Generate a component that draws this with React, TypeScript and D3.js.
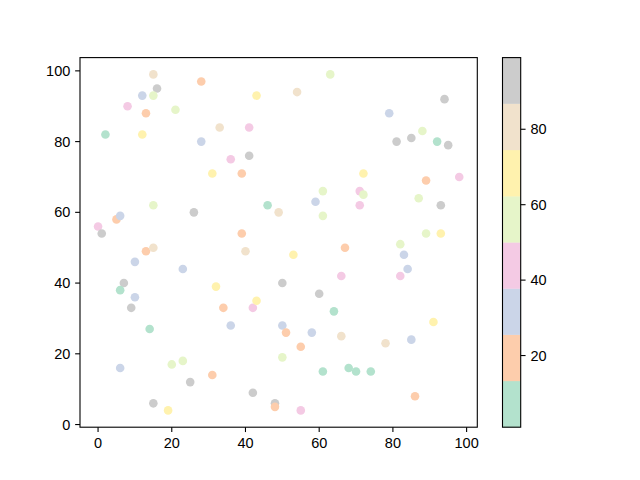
import React from "react";
import * as d3 from "d3";

const xs = [15,28,16,12,15,43,8,13,21,2,12,33,41,28,36,41,31,39,15,26,46,49,0,5,6,1,39,63,54,94,79,88,81,85,92,95,72,89,98,61,71,72,87,59,71,93,61,89,93,13,15,40,53,10,23,7,6,10,9,32,34,42,43,50,14,36,50,51,50,6,20,23,31,25,42,15,19,48,48,67,82,83,84,82,66,60,64,91,58,66,78,85,55,61,68,70,74,86,55];
const ys = [99,97,95,93,93,93,90,88,89,82,82,84,84,80,75,76,71,71,62,60,62,60,56,58,59,54,54,99,94,92,88,83,80,81,80,79,71,69,70,66,66,65,64,63,62,62,59,54,54,49,50,49,48,46,44,40,38,36,33,39,33,33,35,40,27,28,28,26,19,16,17,18,14,12,9,6,4,6,5,50,51,48,44,42,42,37,32,29,26,25,23,24,22,15,16,15,15,8,4];
const cs = [80,20,92,30,57,70,44,18,55,1,67,79,45,33,42,95,66,21,53,90,9,82,41,17,29,97,23,58,77,94,32,56,88,91,6,99,72,19,47,54,40,59,61,34,46,93,52,57,69,22,81,78,65,31,28,89,5,35,96,63,16,43,71,90,8,27,36,24,51,30,58,55,14,87,93,98,64,89,20,18,60,33,29,39,48,92,4,73,26,76,83,32,15,3,11,7,12,21,43];
const xTicks = [0, 20, 40, 60, 80, 100];
const yTicks = [0, 20, 40, 60, 80, 100];
const cTicks = [20, 40, 60, 80];
const palette = ["#b3e2cd", "#fdcdac", "#cbd5e8", "#f4cae4", "#e6f5c9", "#fff2ae", "#f1e2cc", "#cccccc"];

const W = 640, H = 480;
const L = 80, R = 477.3, T = 57.6, B = 427.2;
const CBX = 502.5, CBW = 18.2;
const FONT = "Liberation Sans, Arial, sans-serif";
const FS = 14.5;

export default function App() {
  const xMin = d3.min(xs)!, xMax = d3.max(xs)!;
  const yMin = d3.min(ys)!, yMax = d3.max(ys)!;
  const xm = (xMax - xMin) * 0.05, ym = (yMax - yMin) * 0.05;
  const x = d3.scaleLinear().domain([xMin - xm, xMax + xm]).range([L, R]);
  const y = d3.scaleLinear().domain([yMin - ym, yMax + ym]).range([B, T]);
  const cExt = d3.extent(cs) as [number, number];
  const color = d3.scaleQuantize<string>().domain(cExt).range(palette);
  const cy = d3.scaleLinear().domain(cExt).range([B, T]);
  const binW = (cExt[1] - cExt[0]) / palette.length;
  const tl = 4.86;

  return (
    <svg width={W} height={H} style={{ position: "absolute", left: 0, top: 0, background: "#fff" }}
      fontFamily={FONT} fontSize={FS}>
      <rect x={0} y={0} width={W} height={H} fill="#fff" />
      {xs.map((xv, i) => (
        <circle key={i} cx={x(xv)} cy={y(ys[i])} r={4.3} fill={color(cs[i])} />
      ))}
      <rect x={L} y={T} width={R - L} height={B - T} fill="none" stroke="#000" strokeWidth={1.1} />
      {xTicks.map((t) => (
        <g key={"x" + t} transform={`translate(${x(t)},${B})`}>
          <line y2={tl} stroke="#000" strokeWidth={1.1} />
          <text y={tl + 4.86} dy="0.76em" textAnchor="middle">{t}</text>
        </g>
      ))}
      {yTicks.map((t) => (
        <g key={"y" + t} transform={`translate(${L},${y(t)})`}>
          <line x2={-tl} stroke="#000" strokeWidth={1.1} />
          <text x={-tl - 4.86} dy="0.35em" textAnchor="end">{t}</text>
        </g>
      ))}
      {palette.map((p, i) => {
        const v0 = cExt[0] + i * binW, v1 = v0 + binW;
        return <rect key={"c" + i} x={CBX} y={cy(v1)} width={CBW} height={cy(v0) - cy(v1)} fill={p} stroke={p} strokeWidth={0.3} />;
      })}
      <rect x={CBX} y={T} width={CBW} height={B - T} fill="none" stroke="#000" strokeWidth={1.1} />
      {cTicks.map((t) => (
        <g key={"c" + t} transform={`translate(${CBX + CBW},${cy(t)})`}>
          <line x2={tl} stroke="#000" strokeWidth={1.1} />
          <text x={tl + 4.86} dy="0.35em" textAnchor="start">{t}</text>
        </g>
      ))}
    </svg>
  );
}
